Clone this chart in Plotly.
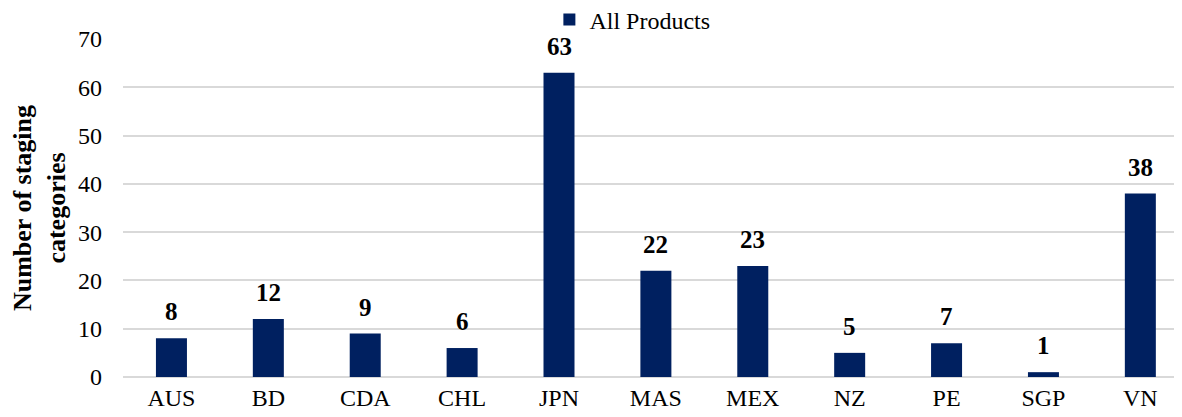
import plotly.graph_objects as go

# Staging categories per country
countries = ['AUS', 'BD', 'CDA', 'CHL', 'JPN', 'MAS', 'MEX', 'NZ', 'PE', 'SGP', 'VN']
counts = [8, 12, 9, 6, 63, 22, 23, 5, 7, 1, 38]

navy = '#002060'
serif = 'Liberation Serif, Times New Roman, serif'

fig = go.Figure()
fig.add_trace(go.Bar(x=countries, y=counts, name='All Products',
                     marker=dict(color=navy, line=dict(width=0)),
                     width=0.32, showlegend=True))

# value labels above bars
for c, v in zip(countries, counts):
    fig.add_annotation(x=c, y=v, text='<b>%d</b>' % v, showarrow=False,
                       yanchor='bottom', yshift=11,
                       font=dict(family=serif, size=25, color='black'))

# page body keeps an 8px margin, so the figure is drawn 8px smaller
fig.update_layout(
    width=1174, height=409,
    margin=dict(l=115, r=0, t=31, b=40, autoexpand=False),
    plot_bgcolor='white', paper_bgcolor='white',
    font=dict(family=serif, size=24, color='black'),
    legend=dict(orientation='h', x=0.481, xanchor='center', yref='container',
                y=0.971, yanchor='middle', font=dict(size=24), itemwidth=30),
)
fig.update_xaxes(range=[-0.5, 10.43], showgrid=False, showline=False, ticks='',
                 tickfont=dict(size=24), ticklabelstandoff=4, automargin=False)
fig.update_yaxes(range=[0, 70], dtick=10, showgrid=True, gridcolor='#d9d9d9', gridwidth=2,
                 zeroline=True, zerolinecolor='#d9d9d9', zerolinewidth=2,
                 tickfont=dict(size=24), ticklabelstandoff=20, automargin=False,
                 title=dict(text='<b>Number of staging<br>categories</b>',
                            font=dict(size=26), standoff=14))

fig.write_html("out.html")
